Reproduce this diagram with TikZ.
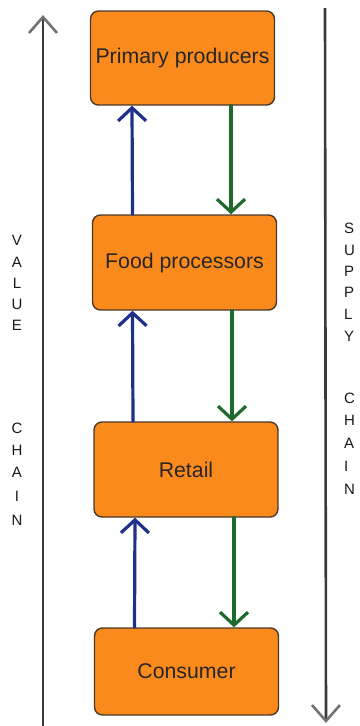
\documentclass[tikz,border=0pt]{standalone}
\usepackage{fontspec}
\setmainfont{Liberation Sans}
\usetikzlibrary{arrows.meta}
\definecolor{boxorange}{HTML}{FB8A1C}
\definecolor{boxedge}{HTML}{4A3A2A}
\definecolor{upblue}{HTML}{1F2F8A}
\definecolor{downgreen}{HTML}{1E6A2C}
\definecolor{axisgray}{HTML}{3A3A3A}
\tikzset{
  x=1pt, y=-1pt,
  stagebox/.style={draw=boxedge, line width=1.4pt, fill=boxorange, rounded corners=8pt,
    minimum width=184pt, inner sep=0pt, font=\fontsize{21.3}{23}\selectfont, text=black!85},
  uparrow/.style={draw=upblue, line width=3.2pt, line cap=round,
    -{Straight Barb[length=13pt,width=28pt,line width=3.2pt]}},
  downarrow/.style={draw=downgreen, line width=3.2pt, line cap=round,
    -{Straight Barb[length=13pt,width=28pt,line width=3.2pt]}},
  axisarrow/.style={draw=axisgray, line width=2.6pt,
    -{Straight Barb[length=16pt,width=28pt,line width=2.6pt,color=black!55]}},
  sideletter/.style={font=\fontsize{15}{15}\selectfont, text=black!90, inner sep=0pt}
}
\begin{document}
\begin{tikzpicture}
\useasboundingbox (0,0) rectangle (359,726);
% stage boxes
\node[stagebox, minimum height=94pt] (prim) at (182.5,58) {Primary producers};
\node[stagebox, minimum height=95pt] (food) at (184.5,262.5) {Food processors};
\node[stagebox, minimum height=95pt] (retail) at (186,469.5) {Retail};
\node[stagebox, minimum height=87pt] (cons) at (186.5,671.5) {Consumer};
% flows
\draw[uparrow] ([xshift=-52pt]food.north) -- ([xshift=-50.5pt]prim.south);
\draw[downarrow] ([xshift=48.5pt]prim.south) -- ([xshift=46.5pt]food.north);
\draw[uparrow] ([xshift=-53pt]retail.north) -- ([xshift=-52pt]food.south);
\draw[downarrow] ([xshift=47.5pt]food.south) -- ([xshift=46pt]retail.north);
\draw[uparrow] ([xshift=-52pt]cons.north) -- ([xshift=-51pt]retail.south);
\draw[downarrow] ([xshift=48pt]retail.south) -- ([xshift=47.5pt]cons.north);
% side axes
\coordinate (lbot) at (43,730);
\coordinate (ltop) at (43,15);
\coordinate (rtop) at (325,8);
\coordinate (rbot) at (326,723);
\draw[axisarrow] (lbot) -- (ltop);
\draw[axisarrow] (rtop) -- (rbot);
% left vertical label
\foreach \ch/\yy [count=\i] in {V/240,A/262,L/283,U/304,E/325,C/428,H/450,A/472,I/496,N/520}
  \node[sideletter] (lv\i) at (17,\yy) {\ch};
% right vertical label (cut by page edge)
\foreach \ch/\yy [count=\i] in {S/228,U/250,P/271,P/292,L/314,Y/336,C/398,H/420,A/443,I/466,N/489}
  \node[sideletter, anchor=west] (rv\i) at (344,\yy) {\ch};
\end{tikzpicture}
\end{document}
